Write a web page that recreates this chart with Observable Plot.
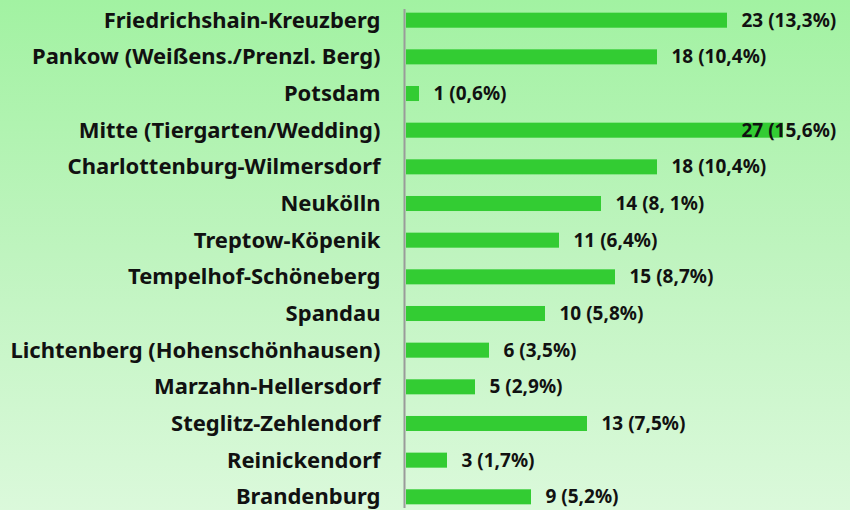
<!DOCTYPE html>
<html>
<head>
<meta charset="utf-8">
<script src="https://cdn.jsdelivr.net/npm/d3@7"></script>
<script src="https://cdn.jsdelivr.net/npm/@observablehq/plot@0.6"></script>
<style>
  html, body { margin: 0; padding: 0; }
  body { width: 850px; height: 510px; overflow: hidden; }
  #chart svg { display: block; background: linear-gradient(to bottom, #a2f2a2 0%, #bff4bf 50%, #dbf9db 100%); }
</style>
</head>
<body>
<div id="chart"></div>
<script>
const districts = [
  "Friedrichshain-Kreuzberg",
  "Pankow (Weißens./Prenzl. Berg)",
  "Potsdam",
  "Mitte (Tiergarten/Wedding)",
  "Charlottenburg-Wilmersdorf",
  "Neukölln",
  "Treptow-Köpenik",
  "Tempelhof-Schöneberg",
  "Spandau",
  "Lichtenberg (Hohenschönhausen)",
  "Marzahn-Hellersdorf",
  "Steglitz-Zehlendorf",
  "Reinickendorf",
  "Brandenburg"
];
const counts = [23, 18, 1, 27, 18, 14, 11, 15, 10, 6, 5, 13, 3, 9];
const valueLabels = [
  "23 (13,3%)", "18 (10,4%)", "1 (0,6%)", "27 (15,6%)", "18 (10,4%)",
  "14 (8, 1%)", "11 (6,4%)", "15 (8,7%)", "10 (5,8%)", "6 (3,5%)",
  "5 (2,9%)", "13 (7,5%)", "3 (1,7%)", "9 (5,2%)"
];

const data = districts.map((d, i) => ({district: d, value: counts[i], label: valueLabels[i]}));
const font = "'Noto Sans', 'Open Sans', sans-serif";

const chart = Plot.plot({
  width: 850,
  height: 510,
  marginLeft: 405,
  marginRight: 11,
  marginTop: 9,
  marginBottom: 2,
  style: {fontFamily: font, fontWeight: "bold", color: "#111"},
  x: {domain: [0, 31], axis: null},
  y: {domain: districts, paddingInner: 0.59, paddingOuter: 0.1, round: false, label: null},
  marks: [
    Plot.barX(data, {x: "value", y: "district", fill: "#33cc33", insetLeft: 1}),
    Plot.ruleX([0], {stroke: "#9a9a9a", strokeWidth: 2, dx: -1}),
    Plot.axisY({tickSize: 0, tickPadding: 25, fontSize: 22, fontWeight: "bold", fill: "#111", label: null}),
    Plot.text(data, {
      x: d => Math.min(d.value, 23), y: "district", text: "label",
      textAnchor: "start", dx: 14, fontSize: 19, fontWeight: "bold", fill: "#111"
    })
  ]
});
document.getElementById("chart").appendChild(chart);
</script>
</body>
</html>
